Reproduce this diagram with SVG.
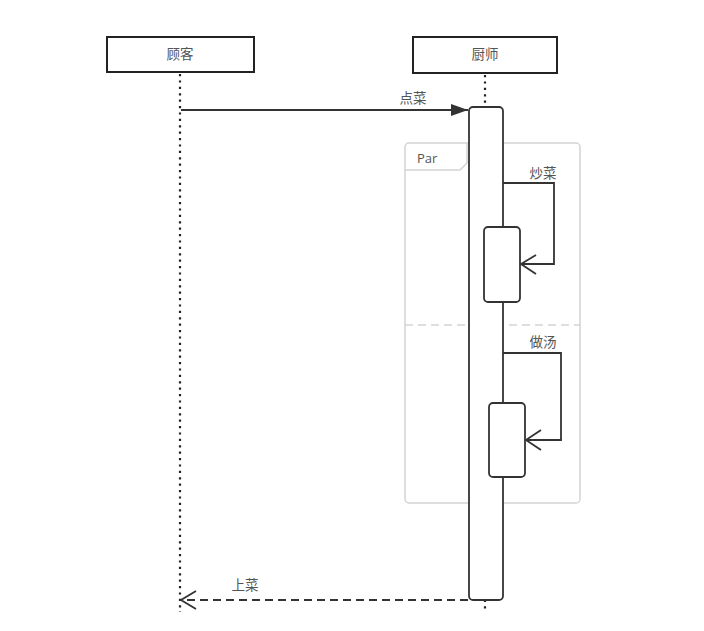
<svg xmlns="http://www.w3.org/2000/svg" width="704" height="631" viewBox="0 0 704 631">
<style>
.box{fill:#fff;stroke:#222;stroke-width:2}
.t{font-family:"Noto Sans CJK SC","Liberation Sans",sans-serif;font-size:13.5px;fill:#555;text-anchor:middle}
.life{stroke:#222;stroke-width:2.2;stroke-dasharray:2.2,4.2;fill:none}
.act{fill:#fff;stroke:#333;stroke-width:1.8}
.ln{stroke:#333;stroke-width:1.8;fill:none}
.frame{fill:none;stroke:#d4d4d4;stroke-width:1.5}
</style>
<defs>
<marker id="filled" markerWidth="18" markerHeight="12" refX="17" refY="6" orient="auto" markerUnits="userSpaceOnUse">
<path d="M0,0 L17,6 L0,12 Z" fill="#333"/>
</marker>
</defs>
<g id="customer">
<rect class="box" x="107" y="37" width="147" height="35"/>
<text class="t" x="180" y="59">顾客</text>
</g>
<g id="chef">
<rect class="box" x="413" y="37" width="144" height="36"/>
<text class="t" x="485" y="59">厨师</text>
</g>
<g id="lifelines">
<line class="life" x1="180" y1="74" x2="180" y2="612"/>
<line class="life" x1="485" y1="75" x2="485" y2="612"/>
</g>
<g id="par-frame">
<rect class="frame" x="405" y="143" width="175" height="360" rx="4"/>
<path class="frame" d="M405,170 L460,170 L467,163 L467,143"/>
<text x="417" y="163" style="font-family:'Open Sans','Liberation Sans',sans-serif;font-size:13px;fill:#555">Par</text>
<line x1="405" y1="325" x2="580" y2="325" stroke="#d4d4d4" stroke-width="1.5" stroke-dasharray="8,5"/>
</g>
<g id="chef-activation">
<rect class="act" x="469" y="107" width="34" height="493" rx="4"/>
</g>
<g id="cook-activation">
<rect class="act" x="484" y="227" width="36" height="75" rx="4"/>
</g>
<g id="soup-activation">
<rect class="act" x="489" y="403" width="36" height="74" rx="4"/>
</g>
<g id="connectors">
<line class="ln" x1="181" y1="110" x2="468" y2="110" marker-end="url(#filled)"/>
<text class="t" x="413" y="103">点菜</text>
<path class="ln" d="M503,183 L554,183 L554,264 L521,264"/>
<path class="ln" d="M536,255 L521,264 L536,274"/>
<text class="t" x="543" y="178">炒菜</text>
<path class="ln" d="M503,353 L561,353 L561,440 L526,440"/>
<path class="ln" d="M541,430 L526,440 L541,450"/>
<text class="t" x="543" y="347">做汤</text>
<line class="ln" x1="468" y1="600" x2="182" y2="600" stroke-dasharray="8,5"/>
<path class="ln" d="M196,591 L181,600 L196,609"/>
<text class="t" x="245" y="590">上菜</text>
</g>
</svg>
